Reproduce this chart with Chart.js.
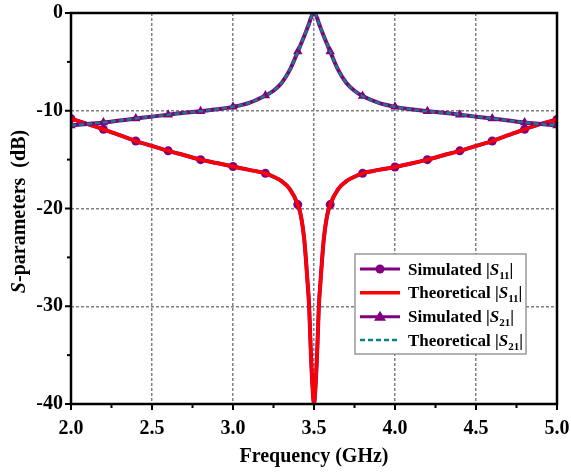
<!DOCTYPE html>
<html lang="en">
<head>
<meta charset="UTF-8">
<title>S-parameters</title>
<script src="https://cdn.jsdelivr.net/npm/chart.js"></script>
<style>
    body { margin: 0; background: #fff; }
    #wrap { width: 571px; height: 474px; }
</style>
</head>
<body>
<div id="wrap"><canvas id="sparam" width="571" height="474"></canvas></div>
<script>
    // frequency points (GHz)
    const freqs = [2.0, 2.1, 2.2, 2.3, 2.4, 2.5, 2.6, 2.7, 2.8, 2.9, 3.0, 3.1, 3.2, 3.25, 3.3, 3.35, 3.4, 3.42, 3.44, 3.46, 3.47, 3.48, 3.49,
        3.5,
        3.51, 3.52, 3.53, 3.54, 3.56, 3.58, 3.6, 3.65, 3.7, 3.75, 3.8, 3.9, 4.0, 4.1, 4.2, 4.3, 4.4, 4.5, 4.6, 4.7, 4.8, 4.9, 5.0];

    const s11Theo = [-10.8, -11.35, -11.9, -12.5, -13.1, -13.6, -14.1, -14.55, -15.0, -15.35, -15.7, -16.05, -16.4, -16.75, -17.2, -18.0, -19.6, -20.8, -23.2, -27.5, -30, -34.5, -38,
        -40,
        -38, -34.5, -30, -27.5, -23.2, -20.8, -19.6, -18.0, -17.2, -16.75, -16.4, -16.05, -15.75, -15.4, -15.0, -14.55, -14.1, -13.6, -13.1, -12.5, -11.9, -11.35, -10.9];
    const s11Sim = [-10.8, -11.35, -11.9, -12.5, -13.1, -13.6, -14.1, -14.55, -15.0, -15.35, -15.7, -16.05, -16.4, -16.75, -17.2, -18.0, -19.6, -20.8, -23.2, -27.5, -30, -34.5, -38,
        -40,
        -38, -34.5, -30, -27.5, -23.2, -20.8, -19.6, -18.0, -17.2, -16.75, -16.4, -16.05, -15.75, -15.4, -15.0, -14.55, -14.1, -13.6, -13.1, -12.5, -11.9, -11.35, -10.9];

    const s21Theo = [-11.5, -11.35, -11.2, -11.0, -10.8, -10.6, -10.4, -10.2, -10.05, -9.85, -9.6, -9.2, -8.45, -7.95, -7.15, -5.85, -3.95, -3.15, -2.35, -1.5, -1.05, -0.55, -0.15,
        0,
        -0.15, -0.55, -1.05, -1.5, -2.35, -3.15, -3.95, -5.85, -7.15, -7.95, -8.5, -9.2, -9.6, -9.85, -10.05, -10.2, -10.4, -10.6, -10.8, -11.0, -11.2, -11.35, -11.5];
    const s21Sim = [-11.5, -11.35, -11.2, -11.0, -10.8, -10.6, -10.4, -10.2, -10.05, -9.85, -9.6, -9.2, -8.45, -7.95, -7.15, -5.85, -3.95, -3.15, -2.35, -1.5, -1.05, -0.55, -0.15,
        0,
        -0.15, -0.55, -1.05, -1.5, -2.35, -3.15, -3.95, -5.85, -7.15, -7.95, -8.5, -9.2, -9.6, -9.85, -10.05, -10.2, -10.4, -10.6, -10.8, -11.0, -11.2, -11.35, -11.5];

    // simulated curves carry a marker every 0.2 GHz
    const markerFreqs = [2.0, 2.2, 2.4, 2.6, 2.8, 3.0, 3.2, 3.4, 3.6, 3.8, 4.0, 4.2, 4.4, 4.6, 4.8, 5.0];

    const xMajor = [2.0, 2.5, 3.0, 3.5, 4.0, 4.5, 5.0];
    const xMinor = [2.25, 2.75, 3.25, 3.75, 4.25, 4.75];
    const yMajor = [0, -10, -20, -30, -40];
    const yMinor = [-5, -15, -25, -35];

    const seriesNames = ['Simulated', 'Theoretical', 'Simulated', 'Theoretical'];
    const seriesSubs = ['11', '11', '21', '21'];

    const PURPLE = '#800080';
    const RED = '#ff0000';
    const TEAL = '#108080';
    const SERIF = '"Liberation Serif", "Times New Roman", serif';

    const pts = (ys) => freqs.map((f, i) => ({ x: f, y: ys[i] }));
    const markerRadius = (r) => (c) => markerFreqs.some(m => Math.abs(m - c.raw.x) < 1e-6) ? r : 0;

    const decor = {
        id: 'decor',
        afterDraw(chart) {
            const { ctx, chartArea: a, scales: { x, y } } = chart;
            ctx.save();

            // outward tick marks
            ctx.strokeStyle = '#000';
            ctx.lineWidth = 2;
            const seg = (x1, y1, x2, y2) => { ctx.beginPath(); ctx.moveTo(x1, y1); ctx.lineTo(x2, y2); ctx.stroke(); };
            xMajor.forEach(v => { const p = x.getPixelForValue(v); seg(p, a.bottom, p, a.bottom + 6); });
            xMinor.forEach(v => { const p = x.getPixelForValue(v); seg(p, a.bottom, p, a.bottom + 4); });
            yMajor.forEach(v => { const p = y.getPixelForValue(v); seg(a.left, p, a.left - 6, p); });
            yMinor.forEach(v => { const p = y.getPixelForValue(v); seg(a.left, p, a.left - 4, p); });

            // frame
            ctx.lineWidth = 2.5;
            ctx.strokeRect(a.left, a.top, a.right - a.left, a.bottom - a.top);

            // axis titles
            ctx.fillStyle = '#000';
            ctx.textBaseline = 'middle';
            ctx.textAlign = 'center';
            ctx.font = 'bold 20px ' + SERIF;
            ctx.fillText('Frequency (GHz)', (a.left + a.right) / 2, 457);

            ctx.save();
            ctx.translate(20, (a.top + a.bottom) / 2 + 3);
            ctx.rotate(-Math.PI / 2);
            ctx.textAlign = 'left';
            ctx.font = 'italic bold 20px ' + SERIF;
            const sW = ctx.measureText('S').width;
            ctx.font = 'bold 20px ' + SERIF;
            const rest = '-parameters  (dB)';
            const rW = ctx.measureText(rest).width;
            let tx = -(sW + rW) / 2;
            ctx.font = 'italic bold 20px ' + SERIF;
            ctx.fillText('S', tx, 0);
            ctx.font = 'bold 20px ' + SERIF;
            ctx.fillText(rest, tx + sW, 0);
            ctx.restore();

            // legend
            const bx = a.right - 202, by = a.bottom - 150, bw = 171, bh = 100;
            ctx.fillStyle = '#fff';
            ctx.fillRect(bx, by, bw, bh);
            ctx.strokeStyle = '#808080';
            ctx.lineWidth = 1.2;
            ctx.strokeRect(bx, by, bw, bh);

            const rows = [15, 38.7, 62.7, 86];
            rows.forEach((dy, i) => {
                const ry = by + dy;
                const x1 = bx + 5, x2 = bx + 45;
                ctx.save();
                if (i === 1) { ctx.strokeStyle = RED; ctx.lineWidth = 3.5; }
                else if (i === 3) { ctx.strokeStyle = TEAL; ctx.lineWidth = 2.5; ctx.setLineDash([5, 3]); }
                else { ctx.strokeStyle = PURPLE; ctx.lineWidth = 3; }
                seg(x1, ry, x2, ry);
                ctx.restore();
                ctx.fillStyle = PURPLE;
                const cx = (x1 + x2) / 2;
                if (i === 0) { ctx.beginPath(); ctx.arc(cx, ry, 4.5, 0, Math.PI * 2); ctx.fill(); }
                if (i === 2) {
                    ctx.beginPath();
                    ctx.moveTo(cx, ry - 6); ctx.lineTo(cx + 6, ry + 4); ctx.lineTo(cx - 6, ry + 4);
                    ctx.closePath(); ctx.fill();
                }

                // label with italic S and subscript
                ctx.fillStyle = '#000';
                ctx.textAlign = 'left';
                ctx.textBaseline = 'alphabetic';
                const base = ry + 5.6;
                let lx = bx + 53;
                ctx.font = 'bold 17px ' + SERIF;
                const head = seriesNames[i] + ' |';
                ctx.fillText(head, lx, base);
                lx += ctx.measureText(head).width;
                ctx.font = 'italic bold 17px ' + SERIF;
                ctx.fillText('S', lx, base);
                lx += ctx.measureText('S').width;
                ctx.font = 'bold 11px ' + SERIF;
                ctx.fillText(seriesSubs[i], lx, base + 4);
                lx += ctx.measureText(seriesSubs[i]).width;
                ctx.font = 'bold 17px ' + SERIF;
                ctx.fillText('|', lx, base);
            });

            ctx.restore();
        }
    };

    const gridColor = (lo, hi) => (c) => {
        const v = c.tick ? c.tick.value : null;
        return (v === null || v === lo || v === hi) ? 'transparent' : '#808080';
    };

    new Chart(document.getElementById('sparam'), {
        type: 'line',
        data: {
            datasets: [
                {
                    label: 'Simulated |S11|', data: pts(s11Sim), order: 4,
                    borderColor: PURPLE, backgroundColor: PURPLE, borderWidth: 4,
                    pointStyle: 'circle', pointRadius: markerRadius(4.5), pointBorderWidth: 0,
                    cubicInterpolationMode: 'monotone'
                },
                {
                    label: 'Theoretical |S11|', data: pts(s11Theo), order: 3,
                    borderColor: RED, borderWidth: 3.5, pointRadius: 0,
                    cubicInterpolationMode: 'monotone'
                },
                {
                    label: 'Simulated |S21|', data: pts(s21Sim), order: 2,
                    borderColor: PURPLE, backgroundColor: PURPLE, borderWidth: 4,
                    pointStyle: 'triangle', pointRadius: markerRadius(5.5), pointBorderWidth: 0,
                    cubicInterpolationMode: 'monotone'
                },
                {
                    label: 'Theoretical |S21|', data: pts(s21Theo), order: 1,
                    borderColor: TEAL, borderWidth: 2.5, borderDash: [5, 3], pointRadius: 0,
                    cubicInterpolationMode: 'monotone'
                }
            ]
        },
        options: {
            responsive: false,
            animation: false,
            layout: { padding: { top: 13, right: 14, left: 0, bottom: 0 } },
            plugins: { legend: { display: false }, tooltip: { enabled: false } },
            scales: {
                x: {
                    type: 'linear', min: 2, max: 5,
                    afterFit: (s) => { s.height = 70; s.paddingLeft = 0; s.paddingRight = 0; },
                    afterBuildTicks: (s) => { s.ticks = xMajor.map(v => ({ value: v })); },
                    ticks: {
                        color: '#000', padding: 13, maxRotation: 0, autoSkip: false,
                        font: { family: SERIF, size: 20, weight: 'bold' },
                        callback: (v) => Number(v).toFixed(1)
                    },
                    grid: { color: gridColor(2, 5), lineWidth: 1.5, drawTicks: false },
                    border: { display: false, dash: [3, 2] }
                },
                y: {
                    type: 'linear', min: -40, max: 0,
                    afterFit: (s) => { s.width = 71; s.paddingTop = 0; s.paddingBottom = 0; },
                    afterBuildTicks: (s) => { s.ticks = yMajor.map(v => ({ value: v })); },
                    ticks: {
                        color: '#000', padding: 8, autoSkip: false,
                        font: { family: SERIF, size: 20, weight: 'bold' },
                        callback: (v) => String(v)
                    },
                    grid: { color: gridColor(-40, 0), lineWidth: 1.5, drawTicks: false },
                    border: { display: false, dash: [3, 2] }
                }
            }
        },
        plugins: [decor]
    });
</script>
</body>
</html>
